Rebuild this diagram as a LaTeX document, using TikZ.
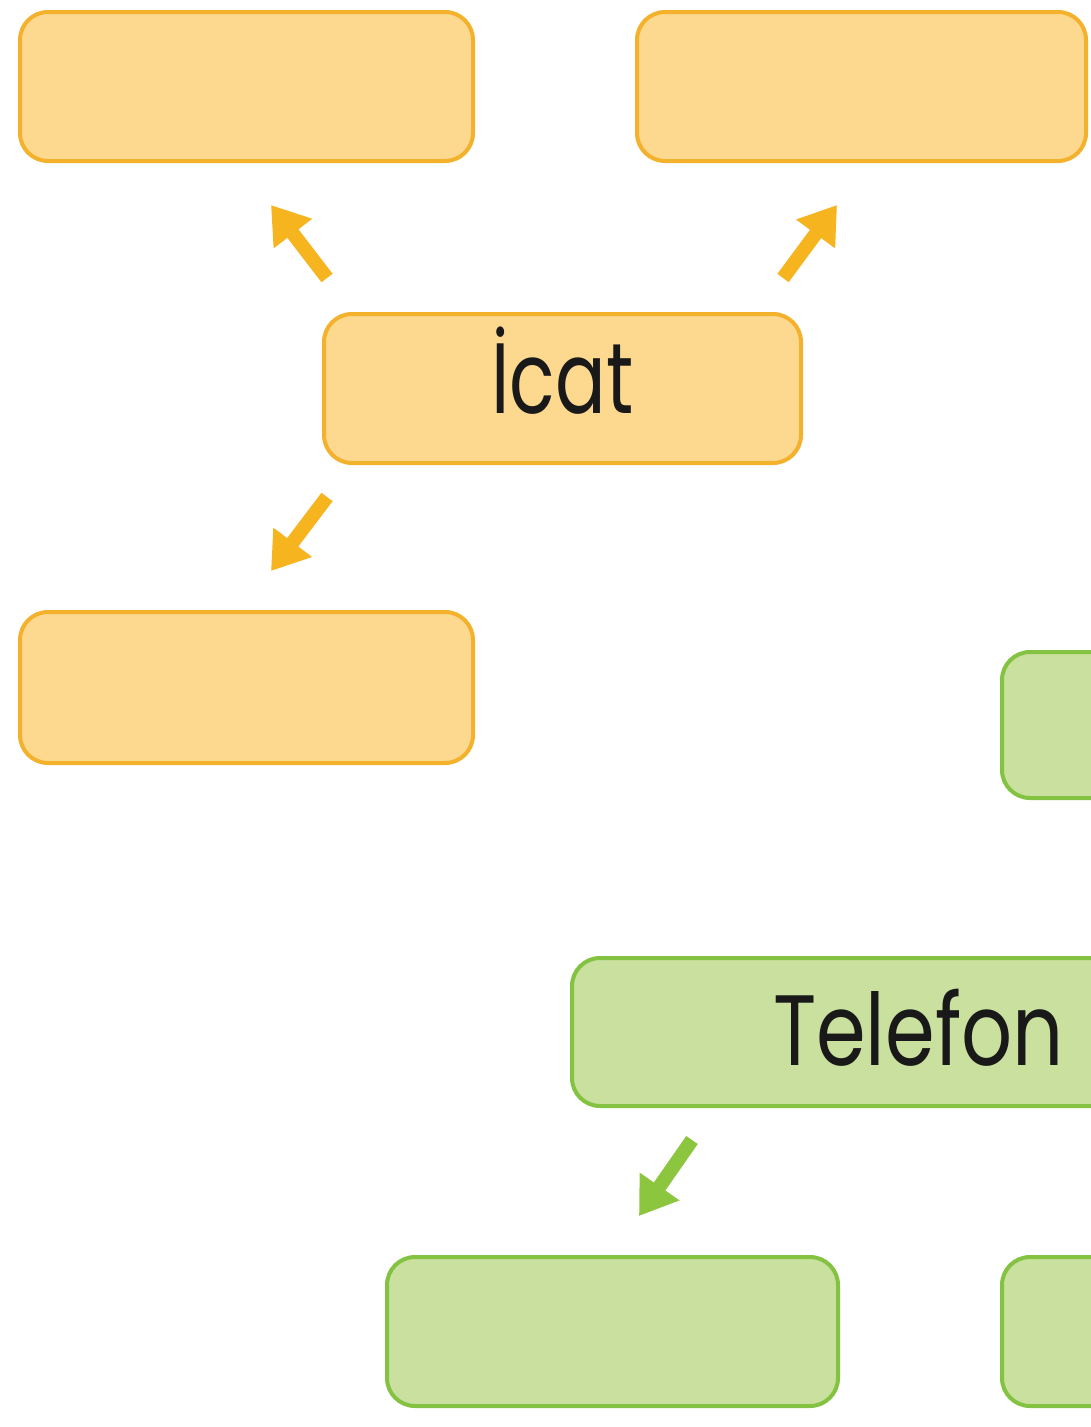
\documentclass[tikz,border=0pt]{standalone}
\usetikzlibrary{arrows.meta}
\usepackage{fontspec}
\newfontfamily\lblfont{Poppins}[FakeStretch=0.8]
\definecolor{ofill}{HTML}{FDD88F}
\definecolor{odraw}{HTML}{F4B12C}
\definecolor{gfill}{HTML}{C9E09E}
\definecolor{gdraw}{HTML}{84C341}
\definecolor{oarrow}{HTML}{F6B41E}
\definecolor{garrow}{HTML}{8CC63F}
\tikzset{
  basebox/.style={line width=4pt, rounded corners=28pt, minimum height=149pt, inner sep=0pt,
    font=\lblfont\fontsize{100}{100}\selectfont, text=black!90},
  obox/.style={basebox, draw=odraw, fill=ofill},
  gbox/.style={basebox, draw=gdraw, fill=gfill},
  oarr/.style={draw=oarrow, line width=14pt, -{Triangle[width=46pt,length=36pt]}},
  garr/.style={draw=garrow, line width=14pt, -{Triangle[width=46pt,length=36pt]}}
}
\begin{document}
\begin{tikzpicture}[x=1pt,y=-1pt]
\useasboundingbox (0,0) rectangle (1091,1427);
\clip (0,0) rectangle (1091,1427);
\fill[white] (0,0) rectangle (1091,1427);
% orange boxes
\node[obox, minimum width=453pt] (tl) at (246.5,86.5) {};
\node[obox, minimum width=449pt] (tr) at (861.5,86.5) {};
\node[obox, minimum width=477pt, text height=49pt, text depth=0pt] (icat) at (562.5,388.5) {\addfontfeature{FakeStretch=0.75}İcat};
\node[obox, minimum width=453pt, minimum height=151pt] (bl) at (246.5,687.5) {};
% green boxes
\node[gbox, minimum width=298pt, minimum height=146pt] (gmr) at (1151,725) {};
\node[gbox, minimum width=693pt, minimum height=148pt, text height=66pt, text depth=0pt] (tel) at (918.5,1032) {Telefon};
\node[gbox, minimum width=451pt] (gbl) at (612.5,1331.5) {};
\node[gbox, minimum width=298pt] (gbr) at (1151,1331.5) {};
% arrow end points
\coordinate (a1s) at (327,278); \coordinate (a1e) at (271,205);
\coordinate (a2s) at (783,278); \coordinate (a2e) at (837,205);
\coordinate (a3s) at (327,497); \coordinate (a3e) at (271,571);
\coordinate (a4s) at (692,1140); \coordinate (a4e) at (639,1216);
\draw[oarr] (a1s) -- (a1e);
\draw[oarr] (a2s) -- (a2e);
\draw[oarr] (a3s) -- (a3e);
\draw[garr] (a4s) -- (a4e);
\end{tikzpicture}
\end{document}
